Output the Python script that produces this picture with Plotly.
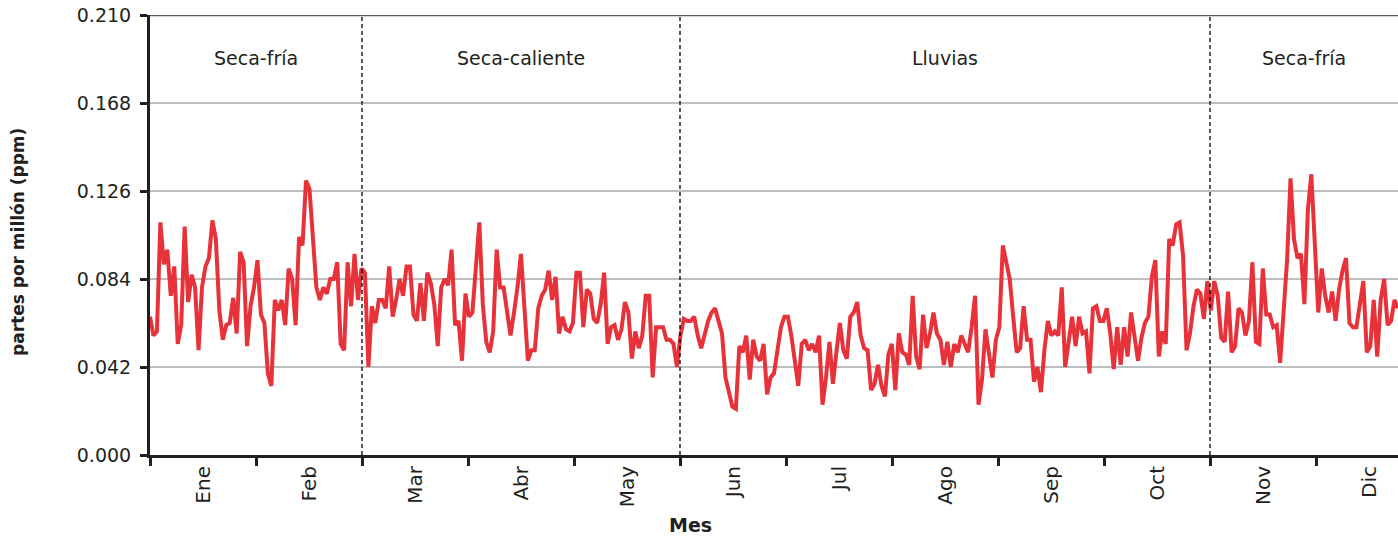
import numpy as np
import plotly.graph_objects as go

# ---------------- data (daily ozone, ppm) ----------------
months = ["Ene", "Feb", "Mar", "Abr", "May", "Jun", "Jul", "Ago", "Sep", "Oct", "Nov", "Dic"]
seasons = ["Seca-fría", "Seca-caliente", "Lluvias", "Seca-fría"]
season_start_month = [0, 2, 5, 10]
season_end_month = [2, 5, 10, 12]
y_ticks = [0.000, 0.042, 0.084, 0.126, 0.168, 0.210]

seca_fria_1 = [0.066, 0.057, 0.059, 0.111, 0.091, 0.098, 0.076, 0.090, 0.053, 0.062,
               0.109, 0.073, 0.086, 0.080, 0.050, 0.080, 0.090, 0.094, 0.112, 0.103,
               0.069, 0.055, 0.062, 0.063, 0.075, 0.058, 0.097, 0.092, 0.052, 0.071,
               0.080, 0.093, 0.067, 0.063, 0.039, 0.033,
               0.074, 0.069, 0.074, 0.062, 0.089, 0.084, 0.062, 0.104, 0.100, 0.131,
               0.127, 0.104, 0.080, 0.074, 0.080, 0.077, 0.084, 0.084, 0.092, 0.053,
               0.050, 0.092, 0.071, 0.096, 0.074]
seca_caliente = [0.089, 0.087, 0.042, 0.071, 0.063, 0.074, 0.074, 0.070, 0.090, 0.066, 0.074,
                 0.084, 0.076, 0.090, 0.090, 0.067, 0.064, 0.082, 0.064, 0.087, 0.082,
                 0.072, 0.052, 0.080, 0.084, 0.081, 0.098, 0.062, 0.064, 0.045, 0.077,
                 0.066, 0.068, 0.090, 0.111, 0.072, 0.054, 0.049, 0.059, 0.098, 0.080,
                 0.080, 0.067, 0.057, 0.068, 0.080, 0.096,
                 0.068, 0.045, 0.050, 0.050, 0.070, 0.076, 0.079, 0.088, 0.074, 0.085,
                 0.058, 0.066, 0.060, 0.059, 0.063, 0.087, 0.087, 0.061, 0.079, 0.077,
                 0.065, 0.063, 0.072, 0.087, 0.053, 0.061, 0.062, 0.055, 0.060, 0.073,
                 0.068, 0.046, 0.059, 0.051, 0.057, 0.076,
                 0.076, 0.037, 0.061, 0.061, 0.061, 0.055, 0.055, 0.053, 0.042]
lluvias = [0.057, 0.065, 0.064, 0.064, 0.066, 0.057, 0.051, 0.058, 0.064, 0.068,
           0.070, 0.064, 0.058, 0.037, 0.029, 0.023, 0.022, 0.052, 0.049, 0.057,
           0.036, 0.055, 0.047, 0.045, 0.053, 0.029, 0.037,
           0.039, 0.050, 0.061, 0.066, 0.066, 0.057, 0.045, 0.033, 0.053, 0.055,
           0.050, 0.053, 0.049, 0.057, 0.024, 0.037, 0.054, 0.034, 0.049, 0.063,
           0.050, 0.046, 0.066, 0.068, 0.073, 0.057, 0.051, 0.050, 0.031, 0.034,
           0.043, 0.033, 0.028, 0.048, 0.053, 0.031,
           0.058, 0.049, 0.048, 0.043, 0.076, 0.047, 0.041, 0.067, 0.051, 0.058,
           0.068, 0.058, 0.055, 0.043, 0.054, 0.042, 0.053, 0.049, 0.057, 0.053,
           0.049, 0.061, 0.076, 0.024, 0.036, 0.060, 0.049, 0.037, 0.055, 0.061,
           0.100, 0.092, 0.084, 0.066, 0.049, 0.051, 0.071,
           0.055, 0.055, 0.035, 0.042, 0.030, 0.050, 0.064, 0.057, 0.059, 0.057,
           0.080, 0.042, 0.054, 0.066, 0.052, 0.066, 0.058, 0.059, 0.039, 0.070,
           0.071, 0.064, 0.064, 0.070, 0.058, 0.041, 0.061, 0.043, 0.061, 0.047,
           0.068, 0.057, 0.045, 0.056, 0.063, 0.066, 0.085,
           0.093, 0.047, 0.059, 0.053, 0.103, 0.100, 0.110, 0.111, 0.095, 0.050,
           0.058, 0.071, 0.079, 0.077, 0.065, 0.083, 0.069]
seca_fria_2 = [0.083, 0.076, 0.056, 0.054, 0.078, 0.049, 0.052, 0.070, 0.068, 0.057,
               0.064, 0.092, 0.054, 0.053, 0.089, 0.067, 0.067, 0.061,
               0.062, 0.044, 0.069, 0.093, 0.132, 0.103, 0.094, 0.096, 0.072, 0.117,
               0.134, 0.097, 0.068, 0.089, 0.076, 0.068, 0.078, 0.064, 0.079, 0.088,
               0.094, 0.063, 0.061, 0.061, 0.071, 0.083, 0.049, 0.052, 0.074, 0.047,
               0.074, 0.084, 0.062, 0.064, 0.074, 0.070]

values = seca_fria_1 + seca_caliente + lluvias + seca_fria_2
n = len(values)
day = np.arange(n)

# ---------------- styling / layout ----------------
W, H = 1398, 538
L, R, T, B = 150, 0, 15, 83
plot_w = W - L - R
plot_h = H - T - B
MONTH_PX = 106.0
MONTH_LEN = (n - 1) * MONTH_PX / plot_w          # month width in index units
visible_months = (n - 1) / MONTH_LEN

DARK = "#231f20"
RED = "#e8323a"
FONT = "DejaVu Sans"

fig = go.Figure()
fig.add_trace(go.Scatter(x=day, y=values, mode="lines",
                         line=dict(color=RED, width=4), hoverinfo="skip"))

shapes = []
for m in season_start_month[1:]:
    shapes.append(dict(type="line", xref="x", yref="y", x0=m * MONTH_LEN, x1=m * MONTH_LEN,
                       y0=0, y1=y_ticks[-1], line=dict(color="#000000", width=1.3, dash="4px,3px"),
                       layer="above"))
shapes.append(dict(type="line", xref="paper", yref="y", x0=0, x1=1, y0=y_ticks[-1], y1=y_ticks[-1],
                   line=dict(color="#58595b", width=2.5), layer="above"))

annotations = []
for name, s, e in zip(seasons, season_start_month, season_end_month):
    mid = (s + min(e, visible_months)) / 2
    annotations.append(dict(x=mid * MONTH_LEN, y=0.1895, xref="x", yref="y", text=name,
                            showarrow=False, xanchor="center", yanchor="middle",
                            font=dict(family=FONT, size=19, color=DARK)))
annotations.append(dict(x=(690 - L) / plot_w, y=(455 - 525) / plot_h, xref="paper", yref="paper",
                        text="<b>Mes</b>", showarrow=False, xanchor="center", yanchor="middle",
                        font=dict(family=FONT, size=19, color=DARK)))
annotations.append(dict(x=(18 - L) / plot_w, y=(455 - 242) / plot_h, xref="paper", yref="paper",
                        textangle=-90, xanchor="center", yanchor="middle",
                        text="<b>partes por millón (ppm)</b>", showarrow=False,
                        font=dict(family=FONT, size=17, color=DARK)))

fig.update_layout(
    width=W, height=H,
    margin=dict(l=L, r=R, t=T, b=B, autoexpand=False),
    plot_bgcolor="white", paper_bgcolor="white",
    showlegend=False,
    shapes=shapes, annotations=annotations,
    xaxis=dict(range=[0, n - 1], tickmode="array", automargin=False,
               tickvals=[(k + 0.5) * MONTH_LEN for k in range(12)], ticktext=months,
               tickangle=-90, ticks="", showgrid=False, zeroline=False,
               showline=True, linecolor=DARK, linewidth=3,
               tickfont=dict(family=FONT, size=20, color=DARK),
               minor=dict(tickmode="array", tickvals=[k * MONTH_LEN for k in range(12)],
                          ticks="outside", ticklen=8, tickwidth=2.5, tickcolor=DARK, showgrid=False)),
    yaxis=dict(range=[0, y_ticks[-1]], tickmode="array", tickvals=y_ticks, automargin=False,
               ticktext=[f"{v:.3f}" for v in y_ticks],
               ticks="outside", ticklen=7, tickwidth=2.5, tickcolor=DARK,
               showline=True, linecolor=DARK, linewidth=3, zeroline=False,
               showgrid=True, gridcolor="#bcbec0", gridwidth=1.5,
               ticklabelstandoff=5, ticklabeloverflow="allow",
               tickfont=dict(family=FONT, size=19, color=DARK)),
)

fig.write_html("out.html", config={"displayModeBar": False},
               post_script="document.body.style.margin='0';document.body.style.overflow='hidden';")
